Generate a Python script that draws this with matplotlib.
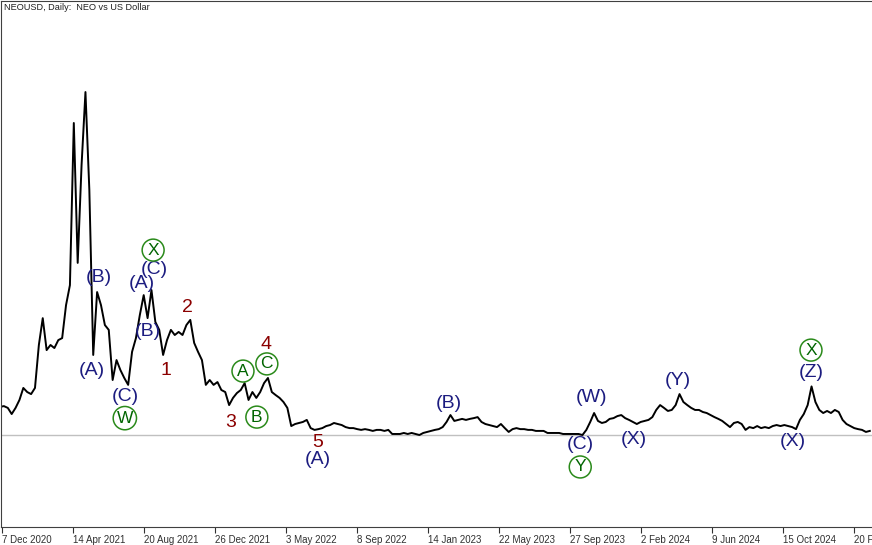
import datetime as dt
import matplotlib
matplotlib.use('Agg')
import matplotlib.pyplot as plt
import matplotlib.dates as mdates
import pandas as pd

# weekly NEO/USD prices (first week: 4 Dec 2020)
start = '2020-12-04'
prices = [
    17.0, 17.3, 16.6, 14.2, 16.6, 19.7, 24.4, 22.8, 22.0, 24.4,
    41.2, 51.7, 39.2, 41.2, 40.0, 43.1, 43.9, 56.8, 64.6, 128.0,
    73.3, 111.6, 140.1, 101.8, 37.3, 61.9, 56.8, 49.0, 47.1, 27.5,
    35.3, 31.4, 28.3, 25.6, 38.5, 43.9, 52.9, 60.7, 51.7, 62.7,
    50.2, 47.1, 37.3, 43.1, 47.1, 45.1, 46.3, 45.1, 49.0, 51.0,
    42.0, 38.5, 35.3, 25.6, 27.5, 25.6, 26.7, 23.6, 22.8, 17.7,
    20.5, 22.4, 23.6, 26.3, 19.7, 22.8, 20.5, 22.8, 26.3, 28.3,
    22.8, 21.6, 20.5, 18.9, 16.6, 9.5, 10.3, 10.7, 11.1, 11.9,
    8.7, 8.0, 8.3, 8.7, 9.5, 9.9, 10.7, 10.3, 9.9, 9.1,
    8.7, 8.7, 8.3, 8.0, 8.3, 8.0, 7.6, 8.0, 8.0, 7.6,
    8.0, 6.4, 6.4, 6.4, 6.8, 6.4, 6.8, 6.4, 6.0, 6.8,
    7.2, 7.6, 8.0, 8.3, 9.1, 11.1, 13.8, 11.5, 11.9, 12.3,
    11.9, 12.3, 12.6, 13.0, 11.1, 10.3, 9.9, 9.5, 9.1, 10.3,
    8.7, 7.2, 8.3, 8.7, 8.3, 8.3, 8.0, 8.0, 7.6, 7.6,
    7.6, 6.8, 6.8, 6.8, 6.8, 6.4, 6.4, 6.4, 6.4, 6.4,
    6.0, 8.0, 11.1, 14.6, 11.5, 10.7, 11.1, 12.3, 12.6, 13.4,
    13.8, 12.6, 11.9, 11.1, 10.3, 11.1, 11.5, 11.9, 13.0, 15.8,
    17.7, 16.6, 15.4, 15.8, 17.7, 22.0, 18.9, 17.7, 16.6, 15.8,
    15.8, 15.0, 14.6, 13.8, 13.0, 12.3, 11.5, 10.3, 9.1, 10.7,
    11.1, 10.3, 8.0, 9.1, 8.7, 9.5, 8.7, 9.1, 8.7, 9.5,
    9.9, 9.5, 9.9, 9.5, 9.1, 8.3, 11.9, 14.2, 17.7, 25.0,
    18.9, 15.8, 14.6, 15.4, 14.6, 15.8, 15.0, 11.9, 10.3, 9.5,
    8.7, 8.3, 8.0, 7.2, 7.6,
]
dates = pd.date_range(start, periods=len(prices), freq='7D')

level = 6.0  # grey horizontal line

tick_labels = ['7 Dec 2020', '14 Apr 2021', '20 Aug 2021', '26 Dec 2021',
               '3 May 2022', '8 Sep 2022', '14 Jan 2023', '22 May 2023',
               '27 Sep 2023', '2 Feb 2024', '9 Jun 2024', '15 Oct 2024',
               '20 Feb 2025']

# wave labels: text, date, price, kind
wave_text = ['(A)', '(B)', '(C)', 'W', '(A)', '(C)', 'X', '(B)',
             '1', '2', '3', '4', 'A', 'B', 'C', '5', '(A)',
             '(B)', '(C)', 'Y', '(W)', '(X)', '(Y)', '(X)', '(Z)', 'X']
wave_date = ['2021-05-19', '2021-05-31', '2021-07-17', '2021-07-17',
             '2021-08-17', '2021-09-09', '2021-09-06', '2021-08-28',
             '2021-09-29', '2021-11-06', '2022-01-23', '2022-03-29',
             '2022-02-15', '2022-03-12', '2022-03-30', '2022-06-30',
             '2022-06-30', '2023-02-21', '2023-10-16', '2023-10-16',
             '2023-11-05', '2024-01-21', '2024-04-09', '2024-11-03',
             '2024-12-05', '2024-12-05']
wave_price = [31.4, 67.4, 20.9, 12.6, 65.4, 70.9, 78.3, 46.3,
              31.4, 56.0, 10.7, 41.2, 31.0, 13.0, 33.8, 2.9, -3.4,
              18.5, 2.1, -6.5, 20.5, 4.4, 27.5, 3.3, 30.6, 39.2]
wave_kind = ['p', 'p', 'p', 'c', 'p', 'p', 'c', 'p',
             'n', 'n', 'n', 'n', 'c', 'c', 'c', 'n', 'p',
             'p', 'p', 'c', 'p', 'p', 'p', 'p', 'p', 'c']

fig = plt.figure(figsize=(8.72, 5.45), dpi=100)
ax = fig.add_axes([1 / 872, 18 / 545, 871 / 872, 526 / 545])

ax.axhline(level, color='#c0c0c0', linewidth=1, zorder=1)
ax.plot(dates, prices, color='black', linewidth=1.4, zorder=2)

for txt, d, p, k in zip(wave_text, wave_date, wave_price, wave_kind):
    d = pd.Timestamp(d)
    if k == 'p':
        ax.text(d, p, txt, color='#1c1c80', fontsize=14,
                family='Liberation Sans', ha='center', va='center')
    elif k == 'n':
        ax.text(d, p, txt, color='#8b0000', fontsize=14,
                family='Liberation Sans', ha='center', va='center')
    else:
        ax.text(d, p, txt, color='#006400', fontsize=12.5,
                family='Liberation Sans', ha='center', va='center',
                bbox=dict(boxstyle='circle,pad=0.2', fc='none',
                          ec='#2a8a1a', lw=1.1))

d7 = mdates.date2num(dt.datetime(2020, 12, 7))
left = d7 - 1.26
ax.set_xlim(left, left + 871 * 128 / 71)
ax.set_ylim(-29.97, 175.7)

ax.set_xticks(pd.to_datetime(tick_labels, format='%d %b %Y'))
ax.set_xticklabels(tick_labels, family='Liberation Sans')
for lab in ax.get_xticklabels():
    lab.set_horizontalalignment('left')
ax.tick_params(axis='x', direction='out', length=4, width=0.8,
               colors='#303030', labelsize=7, pad=1.5)
ax.tick_params(axis='y', left=False, labelleft=False)
for side in ['left', 'top', 'bottom']:
    ax.spines[side].set_color('#404040')
    ax.spines[side].set_linewidth(0.8)
ax.spines['right'].set_visible(False)

fig.text(4 / 872, 1 - 8 / 545, 'NEOUSD, Daily:  NEO vs US Dollar',
         fontsize=6.6, family='Liberation Sans', color='#202020',
         ha='left', va='center')

fig.savefig('out.png', dpi=100)
